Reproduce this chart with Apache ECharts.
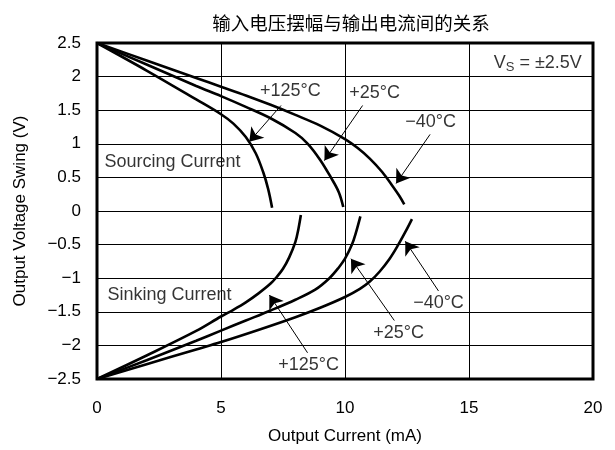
<!DOCTYPE html>
<html><head><meta charset="utf-8">
<script src="https://cdn.jsdelivr.net/npm/echarts@6/dist/echarts.min.js"></script>
<style>html,body{margin:0;padding:0;background:#fff}#c{width:615px;height:450px}</style>
</head><body><div id="c"></div>
<script>
var titleText = '输入电压摆幅与输出电流间的关系';
var xName = 'Output Current (mA)';
var yName = 'Output Voltage Swing (V)';
var xTicks = [0, 5, 10, 15, 20];
var yTickLabels = {'2.5':'2.5','2':'2','1.5':'1.5','1':'1','0.5':'0.5','0':'0','-0.5':'\u22120.5','-1':'\u22121','-1.5':'\u22121.5','-2':'\u22122','-2.5':'\u22122.5'};

// Sourcing current curves [mA, V]
var src125 = [[0,2.5],[2,2.09],[4,1.66],[5,1.44],[5.5,1.3],[6,1.1],[6.4,0.86],[6.7,0.58],[6.9,0.33],[7.06,0.05]];
var src25 = [[0,2.5],[2,2.18],[4,1.86],[5,1.71],[6,1.55],[7,1.38],[8,1.16],[8.5,1.0],[9,0.76],[9.43,0.5],[9.75,0.28],[9.93,0.06]];
var srcM40 = [[0,2.5],[2,2.24],[4,1.98],[5,1.85],[6,1.72],[7,1.58],[8,1.43],[9,1.27],[10,1.07],[10.5,0.94],[11,0.78],[11.5,0.58],[11.9,0.38],[12.2,0.22],[12.39,0.1]];
// Sinking current curves
var snk125 = [[0,-2.5],[2,-2.15],[4,-1.785],[5,-1.57],[5.5,-1.47],[6,-1.36],[6.5,-1.23],[7,-1.08],[7.25,-0.98],[7.5,-0.86],[7.75,-0.69],[8,-0.46],[8.12,-0.27],[8.22,-0.06]];
var snk25 = [[0,-2.5],[2,-2.22],[4,-1.93],[5,-1.78],[6,-1.63],[7,-1.48],[8,-1.32],[8.8,-1.17],[9.37,-1.0],[9.75,-0.84],[10,-0.71],[10.28,-0.5],[10.45,-0.31],[10.62,-0.08]];
var snkM40 = [[0,-2.5],[2,-2.28],[4,-2.06],[5,-1.95],[6.5,-1.77],[8,-1.58],[9,-1.44],[10,-1.28],[10.6,-1.16],[11,-1.05],[11.4,-0.9],[11.8,-0.71],[12.12,-0.52],[12.45,-0.3],[12.7,-0.12]];

// Annotation arrows: [fromX, fromY, toX, toY]
var arrows = [
  [7.42,1.57,6.14,1.03],
  [10.71,1.57,9.17,0.75],
  [13.43,1.14,12.06,0.41],
  [8.49,-2.11,6.95,-1.25],
  [11.99,-1.63,10.24,-0.71],
  [13.77,-1.19,12.43,-0.45]
];
// Annotation labels: [x, y, text, align]
var labels = [
  [7.8,1.78,'+125\u00B0C','center'],
  [11.19,1.75,'+25\u00B0C','center'],
  [13.45,1.32,'\u221240\u00B0C','center'],
  [8.53,-2.29,'+125\u00B0C','center'],
  [12.16,-1.81,'+25\u00B0C','center'],
  [13.77,-1.37,'\u221240\u00B0C','center'],
  [0.3,0.73,'Sourcing Current','left'],
  [0.42,-1.25,'Sinking Current','left']
];
var vsLabel = [19.55, 2.2];

var FONT = 'Liberation Sans, Arial, sans-serif';
var chart = echarts.init(document.getElementById('c'), null, {renderer:'canvas'});
function curve(d){
  return {type:'line', data:d, showSymbol:false, smooth:0.35, silent:true,
    lineStyle:{color:'#000', width:2.6}, z:3};
}
var series = [curve(src125), curve(src25), curve(srcM40), curve(snk125), curve(snk25), curve(snkM40)];
series.push({
  type:'line', data:[], silent:true,
  markLine:{silent:true, symbol:['none','arrow'], symbolSize:13, animation:false,
    lineStyle:{color:'#000', width:1, type:'solid'}, label:{show:false},
    data: arrows.map(function(a){return [{coord:[a[0],a[1]]},{coord:[a[2],a[3]]}];})}
});
series.push({
  type:'scatter', symbolSize:0, silent:true, z:5,
  data: labels.map(function(l){return {value:[l[0],l[1]], name:l[2],
    label:{align:l[3]}};}),
  label:{show:true, position:[0,0], verticalAlign:'middle', align:'center',
    formatter:function(p){return p.name;}, color:'#000', fontSize:18, fontFamily:FONT}
});
series.push({
  type:'scatter', symbolSize:0, silent:true, z:5,
  data:[{value:vsLabel}],
  label:{show:true, position:[0,0], align:'right', verticalAlign:'middle',
    formatter:'V{sub|S} = \u00B12.5V', color:'#000', fontSize:18, fontFamily:FONT,
    rich:{sub:{fontSize:13, fontFamily:FONT, color:'#000', verticalAlign:'bottom', padding:[9,0,0,0]}}}
});

chart.setOption({
  animation:false,
  backgroundColor:'#fff',
  title:{text:titleText, left:346, textAlign:'center', top:9,
    textStyle:{fontSize:18.5, fontWeight:'normal', color:'#000', fontFamily:'Noto Sans CJK SC, sans-serif'}},
  grid:{left:97, right:22, top:43, bottom:71, show:true, borderColor:'#000', borderWidth:3},
  xAxis:{type:'value', min:0, max:20, interval:5,
    name:xName, nameLocation:'middle', nameGap:49,
    nameTextStyle:{fontSize:17, color:'#000', fontFamily:FONT},
    axisLine:{show:false}, axisTick:{show:false},
    axisLabel:{fontSize:17, color:'#000', margin:21, fontFamily:FONT,
      formatter:function(v){return xTicks.indexOf(v)>=0?String(v):'';}},
    splitLine:{show:true, lineStyle:{color:'#000', width:1}}},
  yAxis:{type:'value', min:-2.5, max:2.5, interval:0.5,
    name:yName, nameLocation:'middle', nameGap:68,
    nameTextStyle:{fontSize:17, color:'#000', fontFamily:FONT},
    axisLine:{show:false}, axisTick:{show:false},
    axisLabel:{fontSize:17, color:'#000', margin:16, fontFamily:FONT,
      formatter:function(v){var k=String(Math.round(v*10)/10); return yTickLabels[k]!==undefined?yTickLabels[k]:k;}},
    splitLine:{show:true, lineStyle:{color:'#000', width:1}}},
  series:series
});
</script></body></html>
